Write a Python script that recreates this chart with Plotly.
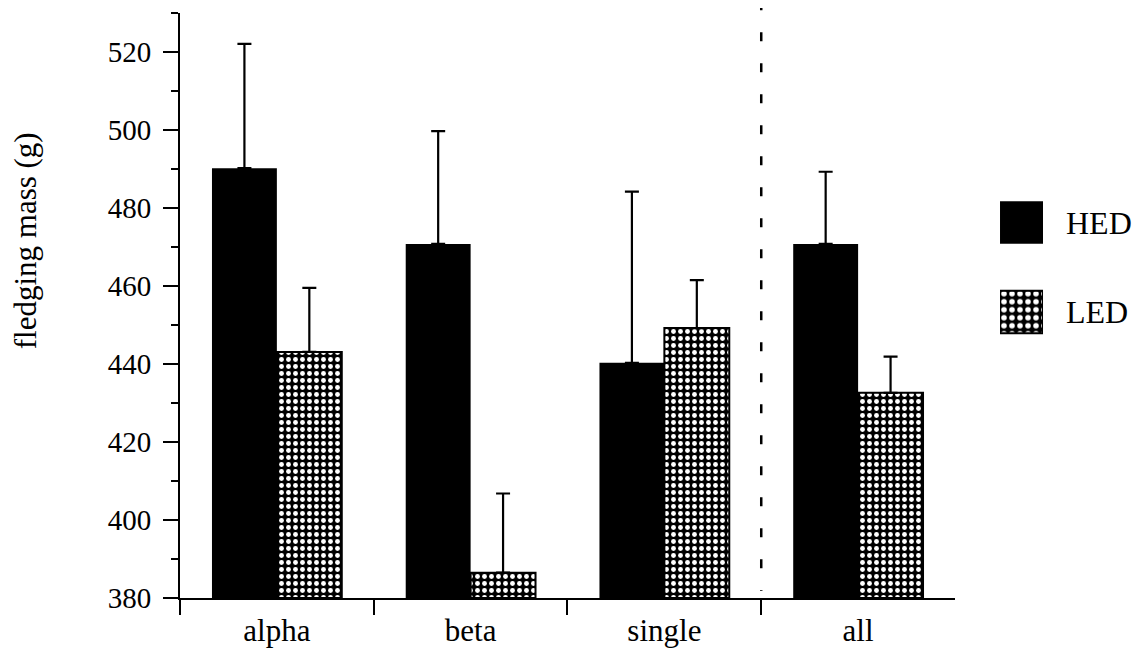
import plotly.graph_objects as go

# ---- data ----
categories = ["alpha", "beta", "single", "all"]
series_names = ["HED", "LED"]
hed_mean = [490.2, 470.8, 440.3, 470.8]
hed_err = [31.9, 28.9, 43.9, 18.5]
led_mean = [443.1, 386.5, 449.2, 432.6]
led_err = [16.4, 20.3, 12.3, 9.3]
y_base = 380
y_ticks = [380, 400, 420, 440, 460, 480, 500, 520]
y_title = "fledging mass (g)"

FONT = "Liberation Serif"

fig = go.Figure()

fig.add_trace(go.Bar(
    x=categories, y=[v - y_base for v in hed_mean], base=y_base, name=series_names[0],
    marker=dict(color="black", line=dict(color="black", width=0)),
    error_y=dict(type="data", array=hed_err, arrayminus=[0] * 4, symmetric=False,
                 color="black", thickness=2.2, width=7),
    showlegend=False,
))
fig.add_trace(go.Bar(
    x=categories, y=[v - y_base for v in led_mean], base=y_base, name=series_names[1],
    marker=dict(color="black", line=dict(color="black", width=2),
                pattern=dict(shape=".", fgcolor="white", bgcolor="black",
                             size=7, solidity=0.38, fillmode="replace")),
    error_y=dict(type="data", array=led_err, arrayminus=[0] * 4, symmetric=False,
                 color="black", thickness=2.2, width=7),
    showlegend=False,
))

# legend swatches on a helper axis
fig.add_trace(go.Bar(
    y=[series_names[0]], x=[1], orientation="h", xaxis="x2", yaxis="y2",
    width=0.475, marker=dict(color="black", line=dict(color="black", width=0)),
    showlegend=False, hoverinfo="skip",
))
fig.add_trace(go.Bar(
    y=[series_names[1]], x=[1], orientation="h", xaxis="x2", yaxis="y2",
    width=0.475,
    marker=dict(color="black", line=dict(color="black", width=2),
                pattern=dict(shape=".", fgcolor="white", bgcolor="black",
                             size=8, solidity=0.38, fillmode="replace")),
    showlegend=False, hoverinfo="skip",
))

fig.add_shape(type="line", xref="x", yref="paper", x0=2.5, x1=2.5, y0=1.02, y1=0.012,
              line=dict(color="black", width=2.5, dash="9px,22px"))

fig.add_annotation(text=y_title, xref="paper", yref="paper", x=-0.161, y=0.61,
                   textangle=-90, showarrow=False, xanchor="center", yanchor="middle",
                   font=dict(family=FONT, size=31, color="black"))

# page body has an 8px margin: the figure is sized/offset to compensate
fig.update_layout(
    width=1134, height=658,
    margin=dict(l=172, r=0, t=5, b=68),
    paper_bgcolor="white", plot_bgcolor="white",
    barmode="group", bargap=0.33, bargroupgap=0.0,
    font=dict(family=FONT, color="black"),
    xaxis=dict(domain=[0, 0.8056], type="category", showline=True, linecolor="black",
               linewidth=2, ticks="outside", tickson="boundaries", ticklen=15,
               tickwidth=2, tickcolor="black", showgrid=False, zeroline=False,
               ticklabelstandoff=4,
               tickfont=dict(family=FONT, size=31, color="black")),
    yaxis=dict(range=[380, 530], tickvals=y_ticks, showline=True, linecolor="black",
               linewidth=2, ticks="outside", ticklen=15, tickwidth=2, tickcolor="black",
               showgrid=False, zeroline=False, ticklabelstandoff=6,
               minor=dict(dtick=10, tick0=390, ticks="outside", ticklen=7, tickwidth=2,
                          tickcolor="black", showgrid=False),
               tickfont=dict(family=FONT, size=29, color="black")),
    xaxis2=dict(domain=[0.8524, 0.8971], range=[0, 1], anchor="y2", visible=False,
                fixedrange=True),
    yaxis2=dict(domain=[0.4124, 0.7184], anchor="x2", side="right", type="category",
                range=[1.5, -0.5], showline=False, showgrid=False, zeroline=False,
                ticks="", ticklabelstandoff=22,
                tickfont=dict(family=FONT, size=32, color="black")),
)

fig.write_html("out.html")
